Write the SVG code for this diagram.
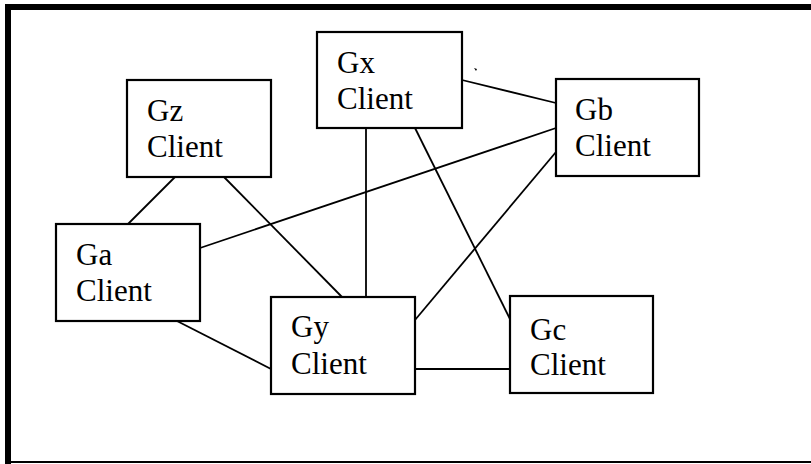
<svg xmlns="http://www.w3.org/2000/svg" width="811" height="464" viewBox="0 0 811 464">
<style>
.box{fill:#fff;stroke:#000;stroke-width:2.2}
.t{font-family:'Liberation Serif','Times New Roman','DejaVu Serif',serif;font-size:31px;fill:#000}
.c{stroke:#000;stroke-width:1.8;fill:none}
</style>
<rect x="0" y="0" width="811" height="464" fill="#fff"/>
<g id="frame">
<rect x="5" y="4" width="806" height="6" fill="#000"/>
<rect x="5" y="4" width="6" height="460" fill="#000"/>
<rect x="5" y="461" width="806" height="2" fill="#000"/>
</g>
<g id="connectors">
<line class="c" x1="175" y1="177" x2="128" y2="224"/>
<line class="c" x1="224" y1="177" x2="342" y2="297"/>
<line class="c" x1="366" y1="128" x2="366" y2="297"/>
<line class="c" x1="415" y1="128" x2="510" y2="319"/>
<line class="c" x1="462" y1="80" x2="556" y2="103"/>
<line class="c" x1="556" y1="128" x2="200" y2="248"/>
<line class="c" x1="556" y1="152" x2="415" y2="320"/>
<line class="c" x1="177" y1="321" x2="271" y2="369"/>
<line class="c" x1="415" y1="369" x2="510" y2="369"/>
</g>
<path d="M474 68l2 3l1 -2z" fill="#000"/>
<g id="Gz">
<rect class="box" x="127" y="80" width="144" height="97"/>
<text class="t" font-family="Liberation Serif, serif" x="147" y="121">Gz</text>
<text class="t" font-family="Liberation Serif, serif" x="147" y="157">Client</text>
</g>
<g id="Gx">
<rect class="box" x="317" y="32" width="145" height="96"/>
<text class="t" font-family="Liberation Serif, serif" x="337" y="73">Gx</text>
<text class="t" font-family="Liberation Serif, serif" x="337" y="109">Client</text>
</g>
<g id="Gb">
<rect class="box" x="556" y="79" width="143" height="97"/>
<text class="t" font-family="Liberation Serif, serif" x="575" y="120">Gb</text>
<text class="t" font-family="Liberation Serif, serif" x="575" y="156">Client</text>
</g>
<g id="Ga">
<rect class="box" x="56" y="224" width="144" height="97"/>
<text class="t" font-family="Liberation Serif, serif" x="76" y="265">Ga</text>
<text class="t" font-family="Liberation Serif, serif" x="76" y="301">Client</text>
</g>
<g id="Gy">
<rect class="box" x="271" y="297" width="144" height="97"/>
<text class="t" font-family="Liberation Serif, serif" x="291" y="337">Gy</text>
<text class="t" font-family="Liberation Serif, serif" x="291" y="374">Client</text>
</g>
<g id="Gc">
<rect class="box" x="510" y="296" width="143" height="97"/>
<text class="t" font-family="Liberation Serif, serif" x="530" y="340">Gc</text>
<text class="t" font-family="Liberation Serif, serif" x="530" y="375">Client</text>
</g>
</svg>
